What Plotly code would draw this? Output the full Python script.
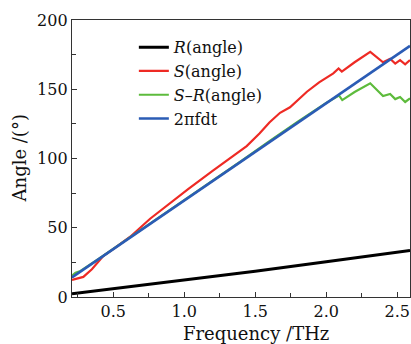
import plotly.graph_objects as go

# Data
freq_R = [0.21, 0.5, 1.0, 1.5, 2.0, 2.59]
angle_R = [2.4, 6.0, 12.3, 18.6, 25.4, 33.6]

freq_S = [0.21, 0.26, 0.29, 0.35, 0.43, 0.5, 0.62, 0.76, 0.9, 1.03, 1.2, 1.32, 1.44,
          1.53, 1.6, 1.675, 1.745, 1.864, 1.95, 2.05, 2.087, 2.11, 2.2, 2.31, 2.40,
          2.45, 2.486, 2.52, 2.556, 2.59]
angle_S = [12.3, 13.5, 14.5, 20.0, 29.5, 34.6, 43.5, 56.5, 68.0, 78.0, 91.0, 100.0, 109.0,
           118.0, 126.0, 133.0, 137.0, 148.2, 155.0, 161.5, 165.0, 162.7, 169.5, 177.0, 169.5,
           172.0, 168.5, 171.0, 168.0, 171.0]

freq_SR = [0.21, 0.235, 0.27, 0.4, 0.6, 0.8, 1.0, 1.2, 1.4, 1.6, 1.7, 1.8, 2.0, 2.09, 2.113,
           2.2, 2.31, 2.40, 2.45, 2.486, 2.52, 2.556, 2.59]
angle_SR = [15.5, 17.5, 18.8, 27.6, 41.8, 55.8, 69.9, 84.0, 98.0, 112.6, 119.8, 126.6, 140.2,
            145.5, 142.2, 148.0, 154.3, 145.1, 146.6, 142.9, 144.4, 140.8, 143.5]

freq_fdt = [0.21, 0.5, 1.0, 1.5, 2.0, 2.59]
angle_fdt = [14.2, 34.6, 69.7, 104.8, 139.9, 181.3]

names = ["<i>R</i>(angle)", "<i>S</i>(angle)", "<i>S</i>–<i>R</i>(angle)", "2πfdt"]
colors = ["#000000", "#ee2a24", "#5dbb3c", "#2b5cb5"]
widths = [3, 2.2, 2.2, 2.6]

FONT = "DejaVu Serif"

fig = go.Figure()
for fx, fy, n, c, w in zip([freq_R, freq_S, freq_SR, freq_fdt],
                           [angle_R, angle_S, angle_SR, angle_fdt],
                           names, colors, widths):
    fig.add_trace(go.Scatter(x=fx, y=fy, mode="lines", name=n,
                             line=dict(color=c, width=w)))

axis_common = dict(showline=True, linecolor="#333333", linewidth=1.3, mirror=True,
                   ticks="inside", ticklen=5, tickwidth=1, tickcolor="#333333",
                   showgrid=False, zeroline=False,
                   tickfont=dict(family=FONT, size=16, color="#111111"))

fig.update_layout(
    width=411, height=344,
    margin=dict(l=72, r=1, t=20, b=47),
    paper_bgcolor="white", plot_bgcolor="white",
    showlegend=True,
    legend=dict(x=0.183, y=0.963, xanchor="left", yanchor="top",
                bgcolor="rgba(0,0,0,0)", borderwidth=0,
                font=dict(family=FONT, size=16, color="#111111"),
                itemwidth=30, tracegroupgap=0),
    xaxis=dict(range=[0.21, 2.59], tickvals=[0.5, 1.0, 1.5, 2.0, 2.5],
               ticktext=["0.5", "1.0", "1.5", "2.0", "2.5"],
               minor=dict(tickvals=[0.25, 0.75, 1.25, 1.75, 2.25], ticks="inside",
                          ticklen=4, tickcolor="#333333"),
               **axis_common),
    yaxis=dict(range=[0, 200], tickvals=[0, 50, 100, 150, 200],
               minor=dict(tickvals=[25, 75, 125, 175], ticks="inside",
                          ticklen=4, tickcolor="#333333"),
               **axis_common),
    annotations=[
        dict(text="Frequency /THz", xref="paper", yref="paper", x=0.543, y=-0.133,
             xanchor="center", yanchor="middle", showarrow=False,
             font=dict(family=FONT, size=18, color="#111111")),
        dict(text="Angle /(°)", xref="paper", yref="paper", x=-0.154, y=0.5,
             xanchor="center", yanchor="middle", showarrow=False, textangle=-90,
             font=dict(family=FONT, size=18, color="#111111")),
    ],
)

fig.write_html("out.html")
